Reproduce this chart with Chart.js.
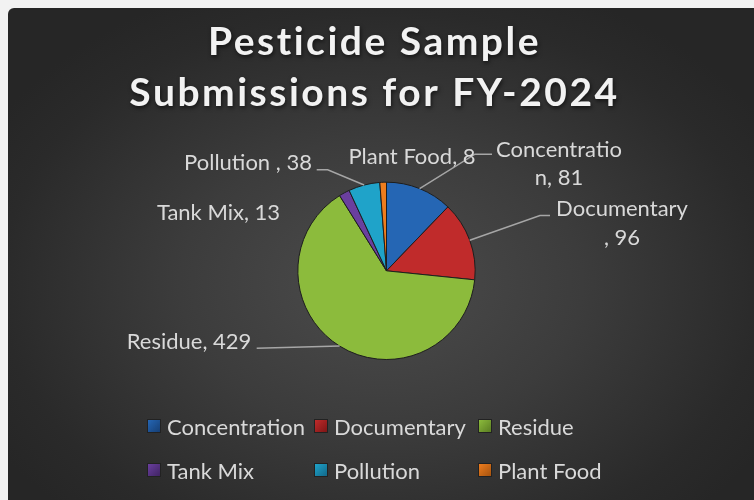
<!DOCTYPE html>
<html lang="en">
<head>
    <meta charset="UTF-8">
    <title>Pesticide Sample Submissions for FY-2024</title>
    <script src="https://cdn.jsdelivr.net/npm/chart.js"></script>
    <style>
        html, body { margin: 0; padding: 0; background: #f2f2f2; }
        #page { position: relative; width: 754px; height: 500px; overflow: hidden; }
        #panel {
            position: absolute; left: 8px; top: 8px; width: 746px; height: 492px;
            border-top-left-radius: 6px;
            background: radial-gradient(ellipse 60% 65% at 50% 56%, #4c4c4c 0%, #3c3c3c 45%, #2a2a2a 85%, #262626 100%);
        }
        #chart { position: absolute; left: 0; top: 0; }
        #legend {
            position: absolute; left: 139px; top: 405px;
            display: grid; grid-template-columns: 167px 164px auto; row-gap: 18px;
            font-family: Lato, "Open Sans", sans-serif; font-size: 22px; color: #d9d9d9;
        }
        #legend .item { display: flex; align-items: center; height: 26px; white-space: nowrap; }
        #legend .box { width: 12px; height: 12px; border: 1px solid #222; margin-right: 6px; }
    </style>
</head>
<body>
<div id="page">
    <div id="panel">
        <canvas id="chart" width="746" height="492"></canvas>
        <div id="legend"></div>
    </div>
</div>
<script>
    // data
    var categories = ['Concentration', 'Documentary', 'Residue', 'Tank Mix', 'Pollution', 'Plant Food'];
    var labelNames = ['Concentration', 'Documentary', 'Residue', 'Tank Mix', 'Pollution ', 'Plant Food'];
    var submissions = [81, 96, 429, 13, 38, 8];

    var colors = ['#2566b4', '#c02b2b', '#8cbb3c', '#6a3f9e', '#1fa3c9', '#ee7d1e'];
    var darkColors = ['#163f75', '#7e1616', '#5a7d22', '#402463', '#12688a', '#a5530f'];

    // label placement relative to pie centre (text block centre), leader path points, line break index
    var labelLayout = [
        { dx: 172.5, dy: -107, brk: 12, leader: [[88.5, -116.7], [105.5, -116.7]] },
        { dx: 235.5, dy: -47.5, brk: 11, leader: [[153.5, -55.3], [163.5, -55.3]] },
        { dx: -197.5, dy: 71, brk: null, leader: [[-129.8, 77.3]] },
        { dx: -168, dy: -58, brk: null, leader: null },
        { dx: -138.5, dy: -108, brk: null, leader: [[-58.8, -101], [-69.8, -101]] },
        { dx: 25.5, dy: -114, brk: null, leader: null }
    ];

    function sliceFill(context) {
        var chart = context.chart;
        var i = context.dataIndex;
        var meta = chart.getDatasetMeta(0);
        var arc = meta.data[i];
        if (!arc || !arc.outerRadius) return colors[i];
        var g = chart.ctx.createRadialGradient(arc.x, arc.y, 0, arc.x, arc.y, arc.outerRadius);
        g.addColorStop(0, colors[i]);
        g.addColorStop(0.8, colors[i]);
        g.addColorStop(1, darkColors[i]);
        return g;
    }

    // shadow + spacing for the title, and nudge it left to where the original sits
    var titleStyle = {
        id: 'titleStyle',
        beforeDraw: function(chart) {
            var ctx = chart.ctx;
            ctx.save();
            ctx.translate(-12, 0);
            ctx.shadowColor = 'rgba(0,0,0,0.6)';
            ctx.shadowBlur = 4;
            ctx.shadowOffsetX = 1;
            ctx.shadowOffsetY = 2;
            ctx.letterSpacing = '2.5px';
        },
        beforeDatasetsDraw: function(chart) {
            chart.ctx.restore();
        }
    };

    var sliceLabels = {
        id: 'sliceLabels',
        afterDatasetsDraw: function(chart) {
            var ctx = chart.ctx;
            var meta = chart.getDatasetMeta(0);
            ctx.save();
            ctx.font = '22px Lato, "Open Sans", sans-serif';
            ctx.fillStyle = '#d9d9d9';
            ctx.strokeStyle = '#a6a6a6';
            ctx.lineWidth = 1.5;
            ctx.textAlign = 'center';
            ctx.textBaseline = 'middle';
            meta.data.forEach(function(arc, i) {
                var cx = arc.x, cy = arc.y, r = arc.outerRadius;
                var mid = (arc.startAngle + arc.endAngle) / 2;
                var lay = labelLayout[i];
                if (lay.leader) {
                    ctx.beginPath();
                    ctx.moveTo(cx + r * Math.cos(mid), cy + r * Math.sin(mid));
                    lay.leader.forEach(function(p) { ctx.lineTo(cx + p[0], cy + p[1]); });
                    ctx.stroke();
                }
                var text = labelNames[i] + ', ' + submissions[i];
                var lines = lay.brk ? [text.slice(0, lay.brk), text.slice(lay.brk)] : [text];
                var lh = 28.5;
                var y0 = cy + lay.dy - (lines.length - 1) * lh / 2;
                lines.forEach(function(line, k) {
                    ctx.fillText(line, cx + lay.dx, y0 + k * lh);
                });
            });
            ctx.restore();
        }
    };

    var htmlLegend = {
        id: 'htmlLegend',
        afterUpdate: function(chart) {
            var box = document.getElementById('legend');
            box.innerHTML = '';
            chart.data.labels.forEach(function(label, i) {
                var item = document.createElement('div');
                item.className = 'item';
                var sw = document.createElement('span');
                sw.className = 'box';
                sw.style.background = 'linear-gradient(135deg, ' + colors[i] + ', ' + darkColors[i] + ')';
                var tx = document.createElement('span');
                tx.textContent = label;
                item.appendChild(sw);
                item.appendChild(tx);
                box.appendChild(item);
            });
        }
    };

    var ctx = document.getElementById('chart').getContext('2d');
    var pieChart = new Chart(ctx, {
        type: 'pie',
        data: {
            labels: categories,
            datasets: [{
                data: submissions,
                backgroundColor: sliceFill,
                borderColor: '#1e1e1e',
                borderWidth: 1
            }]
        },
        options: {
            responsive: false,
            animation: false,
            layout: { padding: { top: 0, bottom: 140, left: 11, right: 0 } },
            plugins: {
                legend: { display: false },
                tooltip: { enabled: false },
                title: {
                    display: true,
                    text: ['Pesticide Sample', 'Submissions for FY-2024'],
                    color: '#f2f2f2',
                    font: { family: 'Lato, "Open Sans", sans-serif', size: 39, weight: 'bold', lineHeight: 1.31 },
                    padding: { top: 8.5, bottom: 63 }
                }
            }
        },
        plugins: [titleStyle, sliceLabels, htmlLegend]
    });
</script>
</body>
</html>
